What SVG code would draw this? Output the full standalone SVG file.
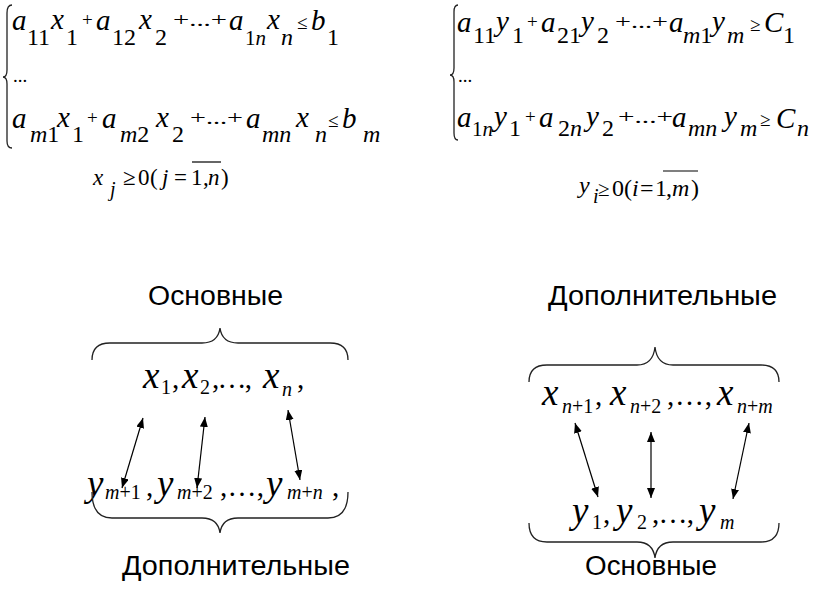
<svg xmlns="http://www.w3.org/2000/svg" width="839" height="601" viewBox="0 0 839 601">
<defs>
<style>
.m{font-family:"Liberation Serif","Times New Roman",serif;font-size:29px;fill:#000}
.i{font-style:italic}
.s{font-size:24px}
.s2{font-size:21px}
.op{font-size:19px}
.big{font-size:37px}
.sub{font-size:20px}
.lbl{font-family:"Liberation Sans",Arial,sans-serif;font-size:27px;fill:#000}
.br{fill:none;stroke:#222;stroke-width:1.3}
.ar{stroke:#000;stroke-width:1.2;fill:none}
</style>
<marker id="ah" viewBox="0 0 10 8" refX="10" refY="4" markerWidth="10" markerHeight="8" markerUnits="userSpaceOnUse" orient="auto-start-reverse">
<path d="M0,0 L10,4 L0,8 Z" fill="#000"/>
</marker>
</defs>
<rect width="839" height="601" fill="#fff"/>

<g id="system-primal">
<path class="br" d="M12,5 Q7,5 7,13 L7,70 Q7,77 3,77 Q7,77 7,84 L7,141 Q7,148 12,148"/>
<text class="m"><tspan class="i" x="12" y="30">a</tspan><tspan class="s" x="27" y="45">11</tspan><tspan class="i" x="51" y="29">x</tspan><tspan class="s" x="66" y="45">1</tspan><tspan class="op" x="82" y="26">+</tspan><tspan class="i" x="96" y="30">a</tspan><tspan class="s" x="112" y="45">12</tspan><tspan class="i" x="139" y="29">x</tspan><tspan class="s" x="155" y="45">2</tspan></text>
<text class="m op" x="173" y="26" textLength="54" lengthAdjust="spacingAndGlyphs">+...+</text>
<text class="m"><tspan class="i" x="229" y="30">a</tspan><tspan class="s2" x="245" y="45">1</tspan><tspan class="s2 i">n</tspan><tspan class="i" x="267" y="29">x</tspan><tspan class="s i" x="281" y="45">n</tspan><tspan class="op" x="297" y="29">≤</tspan><tspan class="i" x="311" y="30">b</tspan><tspan class="s" x="327" y="45">1</tspan></text>
<text class="m op" x="13" y="82">...</text>
<text class="m"><tspan class="i" x="12" y="128">a</tspan><tspan class="s i" x="30" y="142">m</tspan><tspan class="s">1</tspan><tspan class="i" x="57" y="127">x</tspan><tspan class="s" x="72" y="142">1</tspan><tspan class="op" x="87" y="124">+</tspan><tspan class="i" x="102" y="128">a</tspan><tspan class="s i" x="120" y="142">m</tspan><tspan class="s">2</tspan><tspan class="i" x="156" y="127">x</tspan><tspan class="s" x="172" y="142">2</tspan></text>
<text class="m op" x="190" y="124" textLength="53" lengthAdjust="spacingAndGlyphs">+...+</text>
<text class="m"><tspan class="i" x="246" y="128">a</tspan><tspan class="s i" x="262" y="142">mn</tspan><tspan class="i" x="296" y="127">x</tspan><tspan class="s i" x="315" y="142">n</tspan><tspan class="op" x="328" y="127">≤</tspan><tspan class="i" x="342" y="128">b</tspan><tspan class="s i" x="363" y="142">m</tspan></text>
</g>

<g id="constraint-x">
<text class="m" style="font-size:23px"><tspan class="i" x="93" y="185">x</tspan><tspan class="i" x="110" y="196" style="font-size:20px">j</tspan><tspan x="123" y="185">≥</tspan><tspan x="138" y="185">0</tspan><tspan x="150" y="185">(</tspan><tspan class="i" x="162" y="185">j</tspan><tspan x="174" y="185">=</tspan><tspan x="191" y="185">1</tspan><tspan x="203" y="185">,</tspan><tspan class="i" x="208" y="185">n</tspan><tspan x="221" y="185">)</tspan></text>
<line x1="192" y1="162" x2="221" y2="162" stroke="#000" stroke-width="1.2"/>
</g>

<g id="system-dual">
<path class="br" d="M458,5 Q454,5 454,12 L454,68 Q454,75 450,75 Q454,75 454,82 L454,133 Q454,140 458,140"/>
<text class="m"><tspan class="i" x="457" y="32">a</tspan><tspan class="s" x="473" y="43">11</tspan><tspan class="i" x="496" y="31">y</tspan><tspan class="s" x="512" y="43">1</tspan><tspan class="op" x="527" y="28">+</tspan><tspan class="i" x="541" y="32">a</tspan><tspan class="s" x="557" y="43">21</tspan><tspan class="i" x="581" y="31">y</tspan><tspan class="s" x="597" y="43">2</tspan></text>
<text class="m op" x="615" y="28" textLength="53" lengthAdjust="spacingAndGlyphs">+...+</text>
<text class="m"><tspan class="i" x="669" y="32">a</tspan><tspan class="s i" x="683" y="43">m</tspan><tspan class="s">1</tspan><tspan class="i" x="712" y="31">y</tspan><tspan class="s i" x="727" y="43">m</tspan><tspan class="op" x="750" y="31">≥</tspan><tspan class="i" x="764" y="32">C</tspan><tspan class="s" x="783" y="43">1</tspan></text>
<text class="m op" x="458" y="82">...</text>
<text class="m"><tspan class="i" x="457" y="127">a</tspan><tspan class="s2" x="472" y="136">1</tspan><tspan class="s2 i">n</tspan><tspan class="i" x="494" y="126">y</tspan><tspan class="s" x="509" y="136">1</tspan><tspan class="op" x="525" y="123">+</tspan><tspan class="i" x="539" y="127">a</tspan><tspan class="s" x="558" y="136">2</tspan><tspan class="s i">n</tspan><tspan class="i" x="586" y="126">y</tspan><tspan class="s" x="602" y="136">2</tspan></text>
<text class="m op" x="618" y="123" textLength="55" lengthAdjust="spacingAndGlyphs">+...+</text>
<text class="m"><tspan class="i" x="672" y="127">a</tspan><tspan class="s i" x="688" y="136">mn</tspan><tspan class="i" x="724" y="126">y</tspan><tspan class="s i" x="740" y="136">m</tspan><tspan class="op" x="760" y="126">≥</tspan><tspan class="i" x="776" y="128">C</tspan><tspan class="s i" x="797" y="136">n</tspan></text>
</g>

<g id="constraint-y">
<text class="m" style="font-size:24px"><tspan class="i" x="579" y="193">y</tspan><tspan class="i" x="593" y="203" style="font-size:20px">i</tspan><tspan x="598" y="196" style="font-size:21px">≥</tspan><tspan x="612" y="196">0</tspan><tspan x="624" y="196">(</tspan><tspan class="i" x="632" y="196">i</tspan><tspan x="640" y="196">=</tspan><tspan x="655" y="196">1</tspan><tspan x="666" y="196">,</tspan><tspan class="i" x="672" y="196">m</tspan><tspan x="691" y="196">)</tspan></text>
<line x1="663" y1="171" x2="698" y2="171" stroke="#000" stroke-width="1.2"/>
</g>

<g id="label-basic-left">
<text class="lbl" x="148" y="305" textLength="135" lengthAdjust="spacingAndGlyphs">Основные</text>
<path class="br" d="M92,360 Q92,343 110,343 L202,343 Q218,343 220,328 Q222,343 238,343 L330,343 Q348,343 348,360"/>
</g>

<g id="node-x-basic">
<text class="m"><tspan class="i big" x="143" y="388">x</tspan><tspan class="sub" x="161" y="394">1</tspan><tspan x="172" y="388">,</tspan><tspan class="i big" x="182" y="388">x</tspan><tspan class="sub" x="200" y="394">2</tspan></text>
<text class="m" x="212" y="388" textLength="40" lengthAdjust="spacing">,…,</text>
<text class="m"><tspan class="i big" x="263" y="388">x</tspan><tspan class="sub i" x="282" y="396">n</tspan><tspan x="297" y="388">,</tspan></text>
</g>

<g id="node-y-extra">
<text class="m"><tspan class="i big" x="87" y="496">y</tspan><tspan class="sub i" x="105" y="499">m</tspan><tspan class="sub">+1</tspan><tspan x="146" y="496">,</tspan><tspan class="i big" x="157" y="496">y</tspan><tspan class="sub i" x="177" y="499">m</tspan><tspan class="sub">+2</tspan></text>
<text class="m" x="220" y="496" textLength="44" lengthAdjust="spacing">,…,</text>
<text class="m"><tspan class="i big" x="266" y="496">y</tspan><tspan class="sub i" x="287" y="499">m</tspan><tspan class="sub">+</tspan><tspan class="sub i">n</tspan><tspan x="332" y="496">,</tspan></text>
</g>

<g id="label-extra-left">
<path class="br" d="M92,492 Q92,518 112,518 L202,518 Q218,518 220,533 Q222,518 238,518 L328,518 Q348,518 348,492"/>
<text class="lbl" x="122" y="575" textLength="228" lengthAdjust="spacingAndGlyphs">Дополнительные</text>
</g>

<g id="label-extra-right">
<text class="lbl" x="548" y="305" textLength="229" lengthAdjust="spacingAndGlyphs">Дополнительные</text>
<path class="br" d="M529,382 Q529,365 547,365 L637,365 Q653,365 655,347 Q657,365 673,365 L761,365 Q779,365 779,382"/>
</g>

<g id="node-x-extra">
<text class="m"><tspan class="i big" x="542" y="405">x</tspan><tspan class="sub i" x="562" y="413">n</tspan><tspan class="sub">+1</tspan><tspan x="595" y="405">,</tspan><tspan class="i big" x="610" y="405">x</tspan><tspan class="sub i" x="630" y="413">n</tspan><tspan class="sub">+2</tspan></text>
<text class="m" x="667" y="405" textLength="45" lengthAdjust="spacing">,…,</text>
<text class="m"><tspan class="i big" x="717" y="405">x</tspan><tspan class="sub i" x="737" y="413">n</tspan><tspan class="sub">+</tspan><tspan class="sub i">m</tspan></text>
</g>

<g id="node-y-basic">
<text class="m"><tspan class="i big" x="572" y="523">y</tspan><tspan class="sub" x="592" y="529">1</tspan><tspan x="603" y="523">,</tspan><tspan class="i big" x="616" y="523">y</tspan><tspan class="sub" x="637" y="529">2</tspan></text>
<text class="m" x="652" y="523" textLength="42" lengthAdjust="spacing">,…,</text>
<text class="m"><tspan class="i big" x="699" y="523">y</tspan><tspan class="sub i" x="720" y="529">m</tspan></text>
</g>

<g id="label-basic-right">
<path class="br" d="M529,523 Q529,542 547,542 L637,542 Q653,542 655,558 Q657,542 673,542 L761,542 Q779,542 779,523"/>
<text class="lbl" x="585" y="575" textLength="132" lengthAdjust="spacingAndGlyphs">Основные</text>
</g>

<g id="connectors">
<line class="ar" x1="143" y1="418" x2="122" y2="488" marker-start="url(#ah)" marker-end="url(#ah)"/>
<line class="ar" x1="205" y1="417" x2="197" y2="488" marker-start="url(#ah)" marker-end="url(#ah)"/>
<line class="ar" x1="288" y1="410" x2="300" y2="480" marker-start="url(#ah)" marker-end="url(#ah)"/>
<line class="ar" x1="575" y1="423" x2="598" y2="497" marker-start="url(#ah)" marker-end="url(#ah)"/>
<line class="ar" x1="651" y1="432" x2="651" y2="498" marker-start="url(#ah)" marker-end="url(#ah)"/>
<line class="ar" x1="749" y1="423" x2="733" y2="499" marker-start="url(#ah)" marker-end="url(#ah)"/>
</g>
</svg>
